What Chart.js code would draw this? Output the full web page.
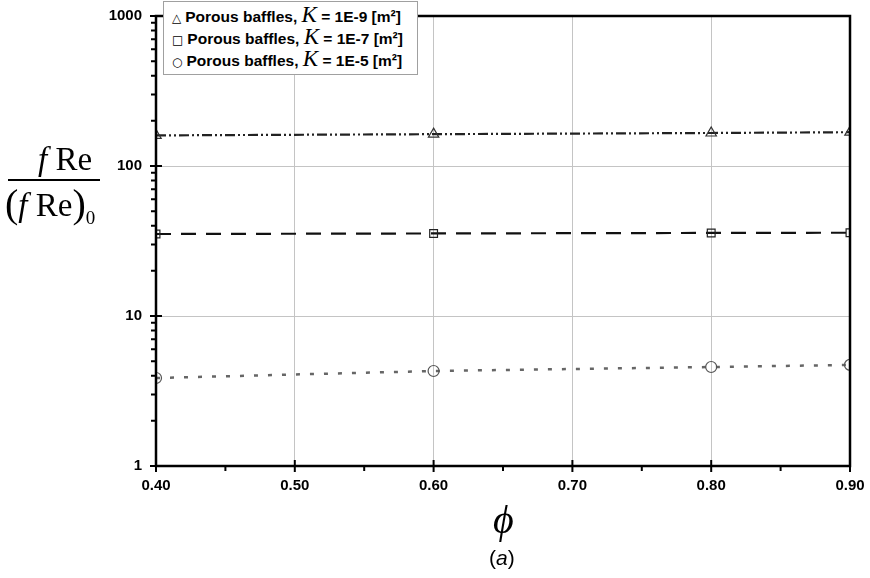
<!DOCTYPE html>
<html>
<head>
<meta charset="utf-8">
<script src="https://cdn.jsdelivr.net/npm/chart.js@4/dist/chart.umd.min.js"></script>
<style>
  html,body{margin:0;padding:0;background:#fff;}
  #wrap{position:relative;width:870px;height:578px;}
  canvas{position:absolute;left:0;top:0;}
  .lbl{position:absolute;font-family:"Liberation Serif","Times New Roman",serif;color:#000;white-space:nowrap;}
  #legend{position:absolute;left:163px;top:1px;width:253px;height:72px;border:1px solid #a0a0a0;background:#fff;
    font-family:"Liberation Sans",Arial,sans-serif;font-weight:bold;font-size:15.5px;color:#000;}
  #legend .row{position:absolute;left:8px;height:22px;line-height:22px;}
  #legend .sym{font-family:"DejaVu Sans",sans-serif;font-weight:normal;font-size:12px;margin-right:4px;}
  #legend .k{font-family:"Liberation Serif","Times New Roman",serif;font-style:italic;font-weight:normal;font-size:23px;}
</style>
</head>
<body>
<div id="wrap">
  <canvas id="c" width="870" height="578"></canvas>
  <div id="legend">
    <div class="row" style="top:2px"><span class="sym">△</span>Porous baffles, <span class="k">K</span> = 1E-9 [m²]</div>
    <div class="row" style="top:24px"><span class="sym">□</span>Porous baffles, <span class="k">K</span> = 1E-7 [m²]</div>
    <div class="row" style="top:46px"><span class="sym">○</span>Porous baffles, <span class="k">K</span> = 1E-5 [m²]</div>
  </div>
  <div class="lbl" style="left:38px;top:141px;font-size:33px;"><i>f</i> Re</div>
  <div style="position:absolute;left:8px;top:179px;width:92px;height:1.5px;background:#000;"></div>
  <div class="lbl" style="left:5px;top:179px;font-size:33px;"><span style="font-size:40px;position:relative;top:1px;">(</span><i>f</i> Re<span style="font-size:40px;position:relative;top:1px;">)</span><span style="font-size:19px;position:relative;top:8px;">0</span></div>
  <div class="lbl" style="left:493px;top:496px;font-size:40px;font-style:italic;">ϕ</div>
  <div class="lbl" style="left:489px;top:546px;font-size:21px;font-family:'Liberation Sans',Arial,sans-serif;">(<i>a</i>)</div>
</div>
<script>
const phi = [0.40, 0.60, 0.80, 0.90];
const fRe_K1e9 = [160, 163, 166, 168];
const fRe_K1e7 = [35.2, 35.5, 35.8, 35.9];
const fRe_K1e5 = [3.86, 4.30, 4.57, 4.72];
const seriesNames = ['Porous baffles, K = 1E-9 [m²]', 'Porous baffles, K = 1E-7 [m²]', 'Porous baffles, K = 1E-5 [m²]'];
const xTickValues = [0.40, 0.50, 0.60, 0.70, 0.80, 0.90];
const xMinorValues = [0.45, 0.55, 0.65, 0.75, 0.85];
const yTickValues = [1, 10, 100, 1000];

const pts = arr => phi.map((x, i) => ({x: x, y: arr[i]}));

const framePlugin = {
  id: 'frame',
  afterDraw(chart) {
    const ctx = chart.ctx, a = chart.chartArea;
    const xs = chart.scales.x, ys = chart.scales.y;
    ctx.save();
    ctx.strokeStyle = '#000';
    ctx.lineWidth = 2.5;
    ctx.strokeRect(a.left, a.top, a.right - a.left, a.bottom - a.top);
    ctx.lineWidth = 2;
    ctx.beginPath();
    yTickValues.forEach(v => {
      const y = ys.getPixelForValue(v);
      ctx.moveTo(a.left - 6, y); ctx.lineTo(a.left + 6, y);
    });
    for (let d = 1; d < 1000; d *= 10) {
      for (let k = 2; k <= 9; k++) {
        const y = ys.getPixelForValue(k * d);
        ctx.moveTo(a.left - 5, y); ctx.lineTo(a.left, y);
      }
    }
    xTickValues.forEach(v => {
      const x = xs.getPixelForValue(v);
      ctx.moveTo(x, a.bottom - 6); ctx.lineTo(x, a.bottom + 6);
    });
    xMinorValues.forEach(v => {
      const x = xs.getPixelForValue(v);
      ctx.moveTo(x, a.bottom); ctx.lineTo(x, a.bottom + 5);
    });
    ctx.stroke();
    ctx.restore();
  }
};

const zeroPad = s => { s.paddingLeft = 0; s.paddingRight = 0; s.paddingTop = 0; s.paddingBottom = 0; };

new Chart(document.getElementById('c'), {
  type: 'scatter',
  data: {
    datasets: [
      {label: seriesNames[0], data: pts(fRe_K1e9), showLine: true,
       borderColor: '#222', borderWidth: 2.2, borderDash: [10, 3, 2, 3, 2, 3],
       pointStyle: 'triangle', pointRadius: 6, pointBorderWidth: 1.2,
       pointBorderColor: '#333', pointBackgroundColor: 'rgba(0,0,0,0)'},
      {label: seriesNames[1], data: pts(fRe_K1e7), showLine: true,
       borderColor: '#111', borderWidth: 2.2, borderDash: [15, 10],
       pointStyle: 'rect', pointRadius: 5.5, pointBorderWidth: 1.2,
       pointBorderColor: '#222', pointBackgroundColor: 'rgba(0,0,0,0)'},
      {label: seriesNames[2], data: pts(fRe_K1e5), showLine: true,
       borderColor: '#666', borderWidth: 2.5, borderDash: [4, 10],
       pointStyle: 'circle', pointRadius: 5.5, pointBorderWidth: 1.2,
       pointBorderColor: '#555', pointBackgroundColor: 'rgba(0,0,0,0)'}
    ]
  },
  options: {
    responsive: false,
    animation: false,
    layout: {padding: {left: 0, top: 16, right: 20, bottom: 0}},
    plugins: {legend: {display: false}, tooltip: {enabled: false}},
    scales: {
      x: {
        type: 'linear', min: 0.4, max: 0.9,
        afterBuildTicks: s => { s.ticks = xTickValues.map(v => ({value: v})); },
        afterFit: s => { s.height = 112; zeroPad(s); },
        grid: {color: '#c4c4c4', lineWidth: 1, drawTicks: false},
        border: {display: false},
        ticks: {padding: 11, color: '#000', font: {family: 'Liberation Sans, Arial, sans-serif', size: 15, weight: 'bold'},
                maxRotation: 0, callback: v => Number(v).toFixed(2)}
      },
      y: {
        type: 'logarithmic', min: 1, max: 1000,
        afterBuildTicks: s => { s.ticks = yTickValues.map(v => ({value: v})); },
        afterFit: s => { s.width = 156; zeroPad(s); },
        grid: {color: '#c4c4c4', lineWidth: 1, drawTicks: false},
        border: {display: false},
        ticks: {padding: 14, color: '#000', font: {family: 'Liberation Sans, Arial, sans-serif', size: 15, weight: 'bold'},
                callback: v => String(v)}
      }
    }
  },
  plugins: [framePlugin]
});
</script>
</body>
</html>
